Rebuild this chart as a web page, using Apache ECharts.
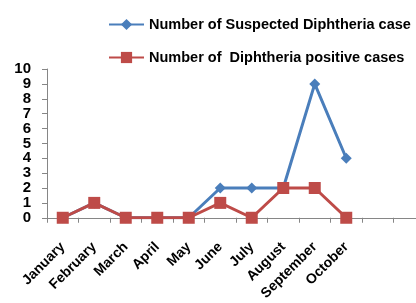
<!DOCTYPE html>
<html>
<head>
<meta charset="utf-8">
<script src="https://cdn.jsdelivr.net/npm/echarts@6/dist/echarts.min.js"></script>
<style>
  html, body { margin: 0; padding: 0; background: #fff; overflow: hidden; }
  #chart { width: 425px; height: 303px; }
</style>
</head>
<body>
<div id="chart"></div>
<script>
var months = ['January', 'February', 'March', 'April', 'May', 'June', 'July', 'August', 'September', 'October', '', ''];
var suspected = [0, 1, 0, 0, 0, 2, 2, 2, 9, 4];
var positive = [0, 1, 0, 0, 0, 1, 0, 2, 2, 0];
var seriesNames = ['Number of Suspected Diphtheria case', 'Number of  Diphtheria positive cases'];

var chart = echarts.init(document.getElementById('chart'));
var font = 'Liberation Sans';

var option = {
    animation: false,
    legend: {
        orient: 'vertical',
        left: 108,
        top: 17,
        padding: 0,
        itemWidth: 35,
        itemHeight: 14,
        itemGap: 18,
        textStyle: {
            color: '#000',
            fontFamily: font,
            fontWeight: 'bold',
            fontSize: 14.5
        },
        data: seriesNames
    },
    grid: {
        left: 47,
        right: 0,
        top: 69,
        bottom: 85
    },
    xAxis: {
        type: 'category',
        boundaryGap: true,
        data: months,
        axisLine: { lineStyle: { color: '#868686', width: 1 } },
        axisTick: { show: true, alignWithLabel: false, length: 5, lineStyle: { color: '#868686' } },
        axisLabel: {
            rotate: 45,
            interval: 0,
            margin: 27,
            color: '#000',
            fontFamily: font,
            fontWeight: 'bold',
            fontSize: 14
        },
        splitLine: { show: false }
    },
    yAxis: {
        type: 'value',
        min: 0,
        max: 10,
        interval: 1,
        axisLine: { show: true, lineStyle: { color: '#868686', width: 1 } },
        axisTick: { show: true, length: 5, lineStyle: { color: '#868686' } },
        axisLabel: {
            margin: 16,
            color: '#000',
            fontFamily: font,
            fontWeight: 'bold',
            fontSize: 15
        },
        splitLine: { show: false }
    },
    series: [
        {
            name: seriesNames[0],
            type: 'line',
            data: suspected,
            symbol: 'diamond',
            symbolSize: 11,
            lineStyle: { color: '#4A7EBB', width: 3 },
            itemStyle: { color: '#4A7EBB' }
        },
        {
            name: seriesNames[1],
            type: 'line',
            data: positive,
            symbol: 'rect',
            symbolSize: 12,
            lineStyle: { color: '#BE4B48', width: 3 },
            itemStyle: { color: '#BE4B48' }
        }
    ]
};

chart.setOption(option);
</script>
</body>
</html>
